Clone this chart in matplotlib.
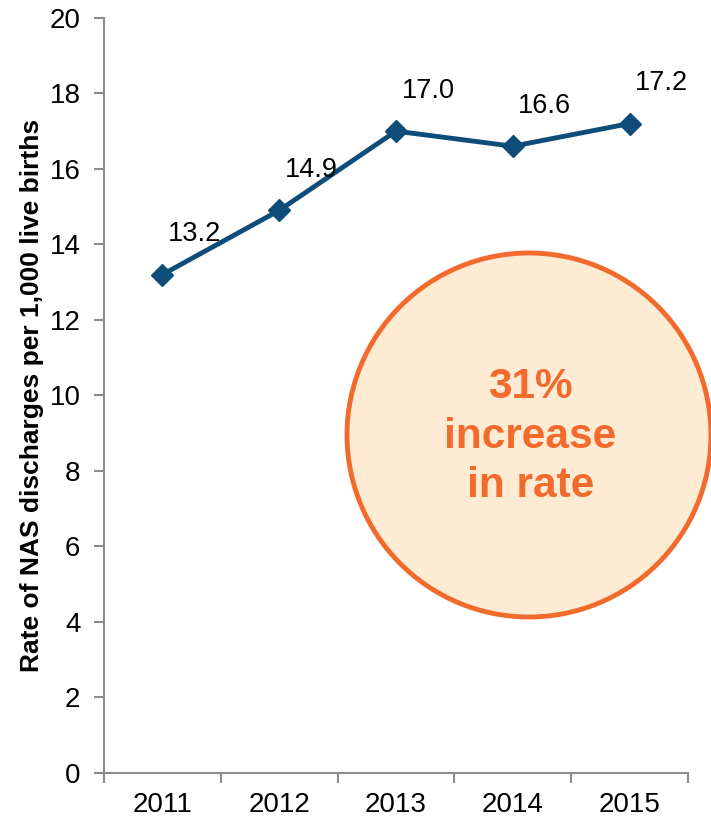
import numpy as np
import matplotlib.pyplot as plt
from matplotlib.patches import Ellipse

plt.rcParams['font.family'] = ['Liberation Sans', 'DejaVu Sans']

# NAS discharge rate per 1,000 live births
years = ['2011', '2012', '2013', '2014', '2015']
rates = [13.2, 14.9, 17.0, 16.6, 17.2]
yticks = [0, 2, 4, 6, 8, 10, 12, 14, 16, 18, 20]

line_color = '#0E4C7A'
orange = '#F26A2C'
axis_grey = '#8C8C8C'

fig = plt.figure(figsize=(7.11, 8.19), dpi=100)
ax = fig.add_axes([104 / 711, 0.0562, 584 / 711, 0.922])

x = np.arange(len(years))
ax.plot(x, rates, color=line_color, lw=3.5, marker='D', markersize=11,
        markeredgecolor=line_color, zorder=3)

for xi, v in zip(x, rates):
    ax.annotate(f'{v:.1f}', (xi, v), xytext=(23, 29), textcoords='offset points',
                ha='center', va='center', fontsize=19.5, color='black')

ax.set_xlim(-0.5, len(years) - 0.5)
ax.set_ylim(0, 20)
ax.set_yticks(yticks)
ax.set_xticks(x)
ax.set_xticklabels(years)
ax.set_xticks(np.arange(-0.5, len(years)), minor=True)
ax.tick_params(axis='x', which='major', length=0, labelsize=20, pad=14)
ax.tick_params(axis='x', which='minor', length=7, width=1.5, color=axis_grey)
ax.tick_params(axis='y', length=7, width=1.5, color=axis_grey, labelsize=20, pad=10)

for side in ['top', 'right']:
    ax.spines[side].set_visible(False)
for side in ['left', 'bottom']:
    ax.spines[side].set_color(axis_grey)
    ax.spines[side].set_linewidth(1.5)

ax.set_ylabel('Rate of NAS discharges per 1,000 live births', fontsize=19,
              fontweight='bold', labelpad=4)

# highlight bubble
cx, cy, r = 529 / 711, 1 - 435 / 819, 182
bubble = Ellipse((cx, cy), 2 * r / 711, 2 * r / 819, transform=fig.transFigure,
                 facecolor='#FDEBD3', edgecolor=orange, lw=3.5, zorder=5)
fig.patches.append(bubble)
fig.text(cx + 0.002, cy - 0.002, '31%\nincrease\nin rate', ha='center', va='center',
         fontsize=30.5, fontweight='bold', color=orange, linespacing=1.3, zorder=6)

fig.savefig('out.png', dpi=100)
